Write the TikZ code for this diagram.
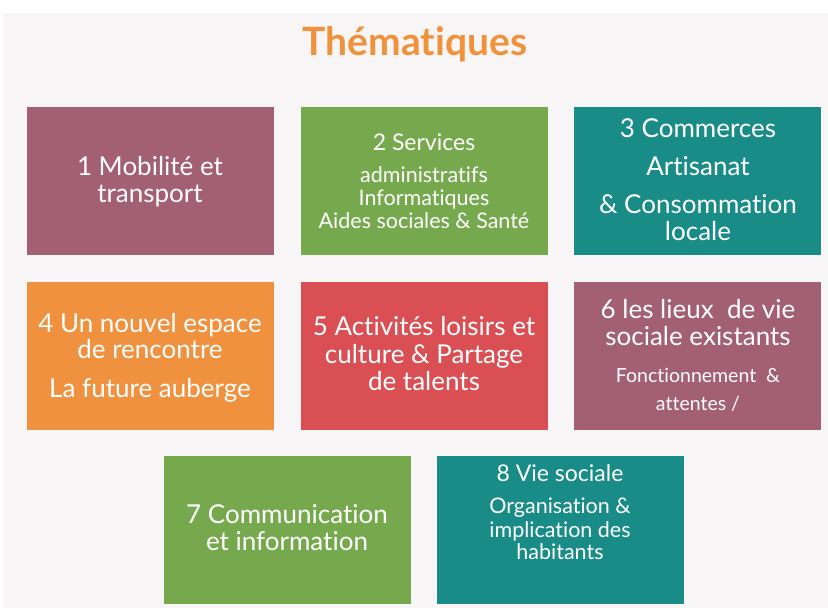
\documentclass[tikz,border=0pt]{standalone}
\usepackage{fontspec}
\setmainfont{Lato}[RawFeature={-liga;-dlig}]
\definecolor{bgc}{HTML}{F8F5F6}
\definecolor{mauve}{HTML}{A35F73}
\definecolor{vert}{HTML}{76A94E}
\definecolor{teal}{HTML}{1A8C88}
\definecolor{orng}{HTML}{EF913E}
\definecolor{rouge}{HTML}{D94F53}
\definecolor{titre}{HTML}{F0923B}
\begin{document}
\begin{tikzpicture}[x=1pt,y=-1pt,
  box/.style={rectangle, inner sep=0pt, minimum width=247pt, minimum height=148pt, anchor=north west},
  big/.style={anchor=base, text=white, inner sep=0pt, font=\fontsize{26}{30}\selectfont},
  small/.style={anchor=base, text=white, inner sep=0pt, font=\fontsize{21.5}{25}\selectfont}]
\useasboundingbox (0,0) rectangle (828,608);
\fill[white] (0,0) rectangle (828,608);
\fill[bgc] (3,13) rectangle (828,608);
\node[anchor=base, text=titre, inner sep=0pt, font=\fontsize{39}{43}\bfseries] (title) at (415,55) {Thématiques};
% boxes
\node[box, fill=mauve] (b1) at (27,107) {};
\node[box, fill=vert]  (b2) at (301,107) {};
\node[box, fill=teal]  (b3) at (574,107) {};
\node[box, fill=orng]  (b4) at (27,282) {};
\node[box, fill=rouge] (b5) at (301,282) {};
\node[box, fill=mauve] (b6) at (574,282) {};
\node[box, fill=vert]  (b7) at (164,456) {};
\node[box, fill=teal]  (b8) at (437,456) {};
% box 1
\node[big] (t1a) at (150,175) {1 Mobilité et};
\node[big] (t1b) at (150,202) {transport};
% box 2
\node[small, font=\fontsize{23}{27}\selectfont] (t2a) at (424,150) {2 Services};
\node[small] (t2b) at (424,182) {administratifs};
\node[small] (t2c) at (424,205) {Informatiques};
\node[small] (t2d) at (424,228) {Aides sociales \& Santé};
% box 3
\node[big] (t3a) at (698,137) {3 Commerces};
\node[big] (t3b) at (698,175) {Artisanat};
\node[big] (t3c) at (698,213) {\& Consommation};
\node[big] (t3d) at (698,240) {locale};
% box 4
\node[big] (t4a) at (150,332) {4 Un nouvel espace};
\node[big] (t4b) at (150,358) {de rencontre};
\node[big] (t4c) at (150,397) {La future auberge};
% box 5
\node[big] (t5a) at (424,335) {5 Activités loisirs et};
\node[big] (t5b) at (424,363) {culture \& Partage};
\node[big] (t5c) at (424,390) {de talents};
% box 6
\node[big] (t6a) at (698,318) {6 les lieux\ \ de vie};
\node[big] (t6b) at (698,345) {sociale existants};
\node[small, font=\fontsize{19.5}{23}\selectfont] (t6c) at (698,382) {Fonctionnement\ \ \&};
\node[small, font=\fontsize{19.5}{23}\selectfont] (t6d) at (698,410) {attentes /};
% box 7
\node[big] (t7a) at (287,523) {7 Communication};
\node[big] (t7b) at (287,550) {et information};
% box 8
\node[small, font=\fontsize{23}{27}\selectfont] (t8a) at (560,481) {8 Vie sociale};
\node[small] (t8b) at (560,513) {Organisation \&};
\node[small] (t8c) at (560,537) {implication des};
\node[small] (t8d) at (560,559) {habitants};
\end{tikzpicture}
\end{document}
